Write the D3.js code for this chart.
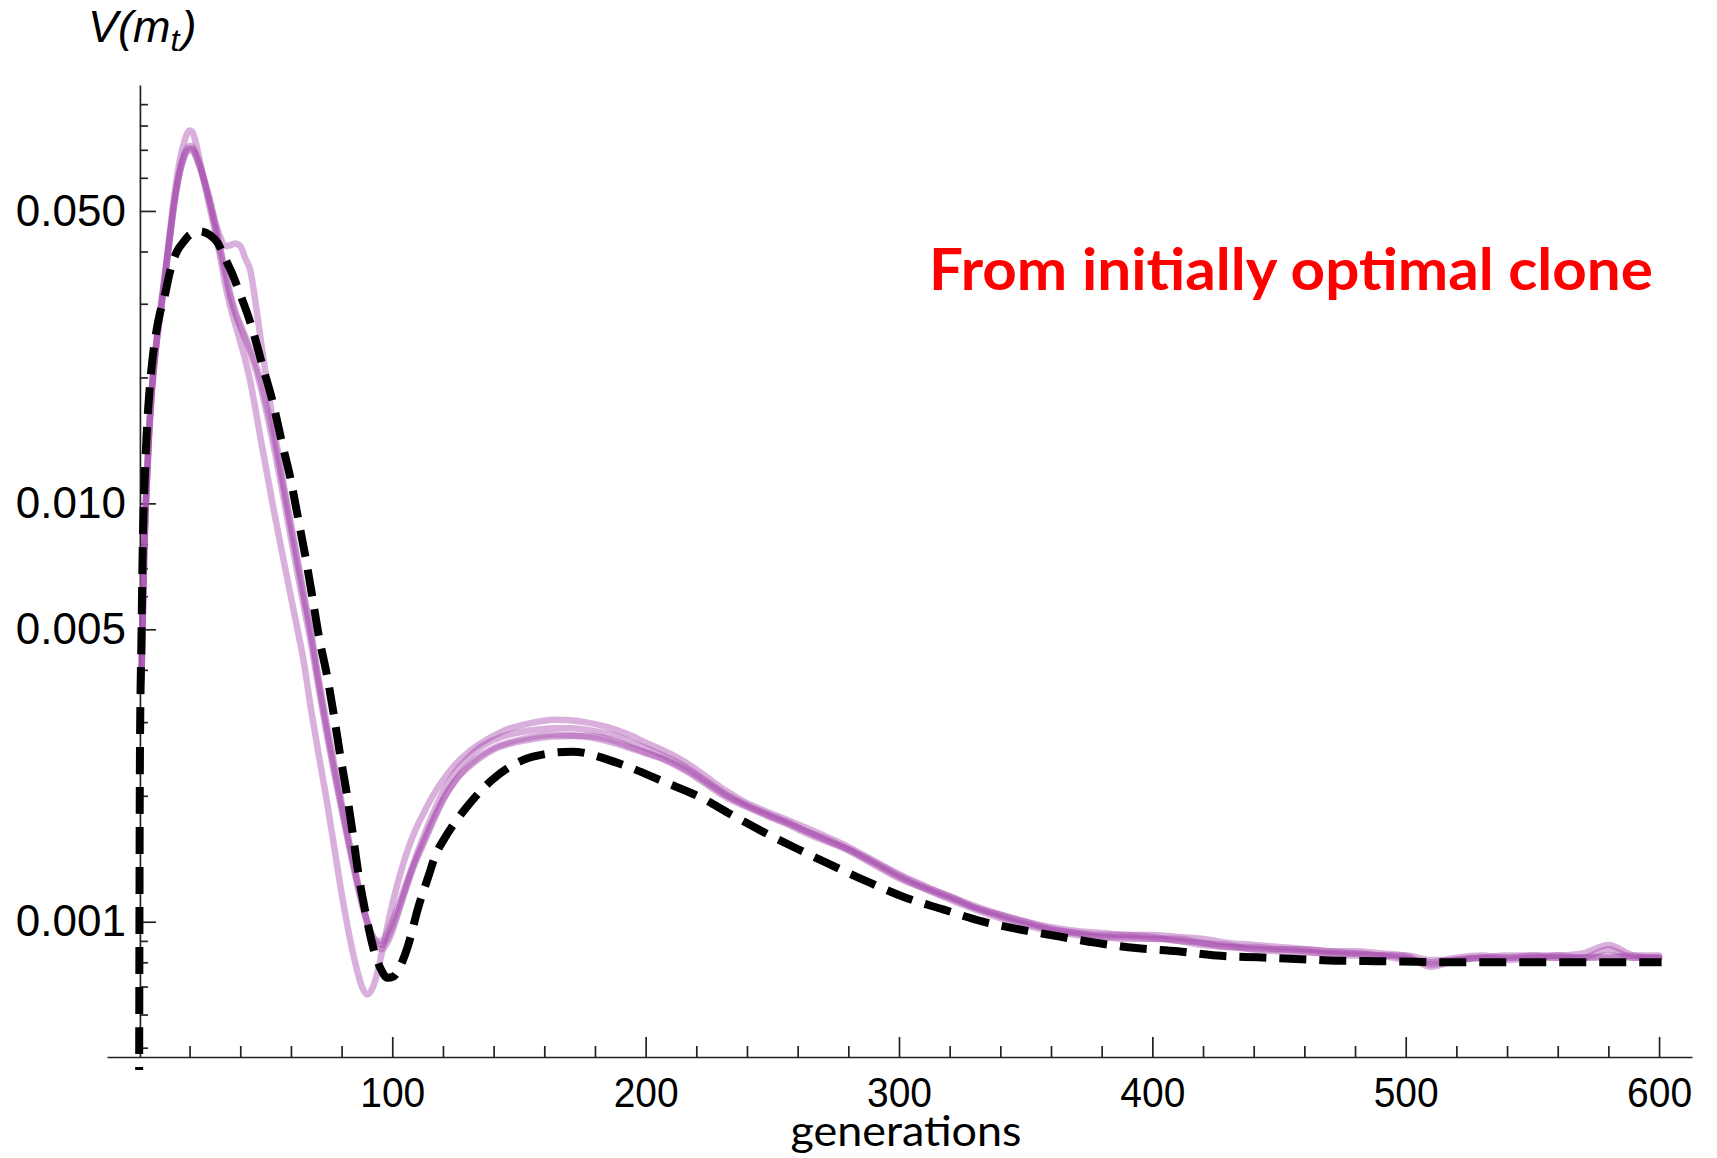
<!DOCTYPE html>
<html><head><meta charset="utf-8">
<script src="https://cdn.jsdelivr.net/npm/d3@7"></script>
<style>body{margin:0;background:#fff} svg{display:block}</style>
</head><body>
<svg id="chart" width="1717" height="1158"></svg>
<script>
// ---------------- data ----------------
const gens = [
  1,2,3,4,5,6,7,8,9,10,
  12,14,16,18,19,20,21,22,23,24,
  26,28,30,32,34,36,38,40,42,44,
  46,48,50,53,56,59,62,65,68,71,
  74,77,80,83,86,88,90,92,94,96,
  98,100,103,106,109,112,116,120,125,130,
  135,140,146,152,158,164,170,176,182,188,
  194,200,208,216,224,232,240,248,256,264,
  272,280,290,300,310,320,330,340,350,360,
  370,380,390,400,410,420,430,440,450,460,
  470,480,490,500,510,520,530,540,550,560,
  570,580,590,600];

const simA = [
  .0038,.0073,.011,.0148,.0186,.0217,.0248,.0278,.031,.0345,
  .0435,.0545,.0655,.0735,.0765,.0778,.0774,.0745,.0705,.066,
  .0578,.0508,.0448,.039,.0335,.0296,.0268,.0244,.022,.0195,
  .0168,.0143,.0123,.0098,.0079,.0064,.0052,.0042,.0032,.0025,
  .00197,.00152,.00117,.00093,.00077,.0007,.00067,.00069,.00075,.00085,
  .00097,.0011,.00129,.00148,.00165,.0018,.002,.00218,.00238,.00254,
  .00267,.00278,.00289,.00296,.00301,.00304,.00303,.003,.00295,.00288,
  .00279,.00268,.00255,.0024,.00222,.00205,.00192,.00183,.00175,.00167,
  .00159,.00151,.0014,.0013,.00122,.00115,.00109,.00104,.001,.00097,
  .00095,.00094,.00093,.00093,.00092,.00091,.00089,.00088,.00087,.00086,
  .00085,.00085,.00084,.00083,.00078,.00081,.00082,.00083,.00083,.00083,
  .00084,.00088,.00083,.00082];

const simB = [
  .0038,.0073,.0109,.0147,.0184,.0214,.0244,.0271,.03,.0336,
  .0425,.053,.0622,.0688,.0706,.0716,.0713,.0698,.0675,.0648,
  .059,.0532,.0475,.0435,.0412,.0414,.0418,.0412,.0385,.036,
  .0303,.0248,.0205,.0155,.0121,.0096,.0077,.0061,.0049,.0038,
  .003,.0024,.00193,.00155,.00127,.00112,.001,.00091,.00087,.00086,
  .00089,.00095,.00108,.00124,.00141,.00158,.00181,.00204,.00228,.00247,
  .00262,.00272,.0028,.00285,.00288,.0029,.0029,.00288,.00284,.00278,
  .00269,.0026,.00248,.00234,.00217,.00201,.0019,.00181,.00173,.00164,
  .00157,.00149,.00139,.00129,.00121,.00115,.00108,.00104,.001,.00096,
  .00094,.00093,.00093,.00092,.0009,.00089,.00087,.00087,.00086,.00086,
  .00085,.00084,.00083,.00083,.00081,.00081,.00082,.00082,.00083,.00082,
  .00082,.00086,.00082,.00082];

const simC = [
  .0038,.0072,.0108,.0145,.018,.0212,.0242,.027,.0298,.0335,
  .042,.052,.0612,.0678,.0697,.0706,.0703,.0688,.0665,.064,
  .0583,.0525,.0465,.041,.0362,.0318,.0288,.0268,.025,.0233,
  .0216,.0197,.0176,.0146,.0118,.0094,.0075,.006,.0048,.0037,
  .0029,.00232,.00188,.00153,.00126,.00112,.00101,.00093,.00089,.00088,
  .00091,.00097,.00109,.00123,.00138,.00152,.00173,.00195,.00218,.00236,
  .0025,.0026,.00268,.00274,.00278,.0028,.00279,.00277,.00273,.00267,
  .0026,.00253,.00243,.00229,.00213,.00198,.00188,.00179,.00171,.00162,
  .00155,.00148,.00137,.00127,.0012,.00113,.00107,.00102,.00098,.00095,
  .00093,.00092,.00091,.00091,.0009,.00088,.00087,.00086,.00085,.000845,
  .00084,.00083,.00083,.00082,.00079,.00081,.00082,.00081,.00082,.00082,
  .00082,.00083,.00082,.00082];

const simD = [
  .0039,.0074,.011,.0147,.0183,.0214,.0244,.0273,.0302,.0338,
  .0423,.0525,.0615,.0675,.0693,.07,.0698,.0684,.0662,.0637,
  .058,.052,.0462,.0405,.0355,.0312,.0284,.0264,.0246,.0228,
  .021,.019,.0169,.0139,.0112,.0089,.0071,.0057,.0046,.0036,
  .00284,.00228,.00185,.00151,.00124,.0011,.001,.00093,.0009,.0009,
  .00094,.001,.00112,.00126,.0014,.00154,.00175,.00196,.00218,.00234,
  .00247,.00258,.00266,.00271,.00275,.00277,.00278,.00278,.00276,.0027,
  .00262,.00254,.00244,.00231,.00215,.002,.00189,.0018,.00172,.00164,
  .00156,.00149,.00138,.00128,.0012,.00114,.00108,.00103,.00099,.00096,
  .00094,.00092,.00092,.00091,.00091,.00089,.00088,.00086,.00086,.00085,
  .00084,.00084,.00083,.00081,.0008,.00082,.00083,.00082,.00082,.00083,
  .00082,.00082,.00083,.00083];

const theoryGen = [0,0.4,1,1.6,2.3,3.1,4.3,5.5,7,8.3,
  10,12.2,15,17.4,20,24,28,31,34,37,
  39.2,44.7,48.7,53,56.3,59.9,62.9,65.8,68.4,71,
  74.3,76.9,79.3,82,84.3,86.5,89.2,92.7,95.5,98,
  100.5,103,106.3,110.2,114.2,117.4,120,129.4,139.7,155.5,
  171,188.6,208,222.6,232.6,246.4,260.2,274,288.5,302.9,
  317.4,333.2,347.7,362.8,378,393.5,410,425.3,441.7,456.8,
  472.6,488.4,504,520,560,601];
const theoryV = [0.0002,0.0025,0.0048,0.0085,0.0115,0.0148,0.019,0.0225,0.026,0.0285,
  0.031,0.0357,0.040,0.042,0.0438,0.0447,0.0438,0.042,0.0385,0.0352,
  0.0325,0.0262,0.0214,0.0173,0.0141,0.0114,0.00916,0.00741,0.006,0.00482,
  0.00386,0.00313,0.00253,0.00203,0.00164,0.00132,0.00107,0.000857,0.00077,0.000735,
  0.00074,0.00078,0.00088,0.00108,0.00128,0.00146,0.00156,0.00188,0.00219,0.00248,
  0.00255,0.0024,0.00215,0.00197,0.00182,0.00164,0.00149,0.00136,0.00124,0.00114,
  0.00107,0.001,0.000958,0.000923,0.00089,0.000865,0.00085,0.00083,0.000822,0.000815,
  0.000807,0.000805,0.000802,0.0008,0.0008,0.0008];

const xMajorTicks = [100,200,300,400,500,600];
const xMinorTicks = [20,40,60,80,120,140,160,180,220,240,260,280,320,340,360,380,420,440,460,480,520,540,560,580];
const yMajorTicks = [0.001,0.005,0.01,0.05];
const yMajorLabels = ["0.001","0.005","0.010","0.050"];
const yMinorTicks = [0.0005,0.0006,0.0007,0.0008,0.0009,0.002,0.003,0.004,0.006,0.007,0.008,0.009,0.02,0.03,0.04,0.06,0.07,0.08,0.09];
const titleText = "From initially optimal clone";
const xLabelText = "generations";

// ---------------- drawing ----------------
const svg = d3.select("#chart");
const x = d3.scaleLinear().domain([-12.6, 613]).range([107, 1692]);
const y = d3.scaleLog().domain([0.000475, 0.1]).range([1057, 85]);

svg.append("defs").append("clipPath").attr("id","clip")
  .append("rect").attr("x",100).attr("y",60).attr("width",1600).attr("height",1010);

const axisFont = "'Liberation Sans', Arial, sans-serif";

// x axis
const gx = svg.append("g").attr("transform",`translate(0,${y.range()[0]})`);
gx.call(d3.axisBottom(x).tickValues(xMajorTicks).tickSize(-20).tickSizeOuter(0).tickPadding(19).tickFormat(d3.format("d")));
const gxm = svg.append("g").attr("transform",`translate(0,${y.range()[0]})`);
gxm.call(d3.axisBottom(x).tickValues(xMinorTicks).tickSize(-11).tickSizeOuter(0).tickFormat(""));
gxm.select(".domain").remove();
gx.selectAll("text").attr("font-size",43).attr("font-family",axisFont).attr("fill","#000")
  .attr("textLength",65).attr("lengthAdjust","spacingAndGlyphs");

// y axis
const gy = svg.append("g").attr("transform",`translate(${x(0)+1},0)`);
gy.call(d3.axisLeft(y).tickValues(yMajorTicks).tickSize(-16).tickSizeOuter(0).tickPadding(14).tickFormat((d,i)=>yMajorLabels[i]));
const gym = svg.append("g").attr("transform",`translate(${x(0)+1},0)`);
gym.call(d3.axisLeft(y).tickValues(yMinorTicks).tickSize(-8).tickSizeOuter(0).tickFormat(""));
gym.select(".domain").remove();
gy.selectAll("text").attr("font-size",44).attr("font-family",axisFont).attr("fill","#000");

svg.selectAll(".domain, .tick line").attr("stroke","#222").attr("stroke-width",1.7);

// lines
const plot = svg.append("g").attr("clip-path","url(#clip)");
const line = d3.line().x(d=>x(d[0])).y(d=>y(d[1])).curve(d3.curveMonotoneX);
[simA, simB, simC, simD].forEach(s=>{
  plot.append("path").datum(gens.map((g,i)=>[g,s[i]]))
    .attr("d",line).attr("fill","none")
    .attr("stroke","rgb(168,80,175)").attr("stroke-opacity",0.45)
    .attr("stroke-width",6.5).attr("stroke-linejoin","round").attr("stroke-linecap","round");
});
plot.append("path").datum(theoryGen.map((g,i)=>[g,theoryV[i]]))
  .attr("d",line).attr("fill","none").attr("stroke","#000")
  .attr("stroke-width",8).attr("stroke-dasharray","27,13");

// labels
const yl = svg.append("text").attr("x",88).attr("y",42)
  .attr("font-family",axisFont).attr("font-style","italic").attr("font-size",45).attr("fill","#000");
yl.append("tspan").text("V(m");
yl.append("tspan").attr("font-size",32).attr("dy",9).text("t");
yl.append("tspan").attr("dy",-9).attr("dx",2).text(")");

svg.append("text").attr("x",929).attr("y",290)
  .attr("font-family","Lato, 'Open Sans', sans-serif").attr("font-weight","bold")
  .attr("font-size",58).attr("fill","#ff0000")
  .attr("textLength",724).attr("lengthAdjust","spacingAndGlyphs").text(titleText);

svg.append("text").attr("x",906).attr("y",1146).attr("text-anchor","middle")
  .attr("font-family","Lato, 'Open Sans', sans-serif").attr("font-size",43).attr("fill","#000")
  .attr("textLength",231).attr("lengthAdjust","spacingAndGlyphs").text(xLabelText);
</script>
</body></html>
